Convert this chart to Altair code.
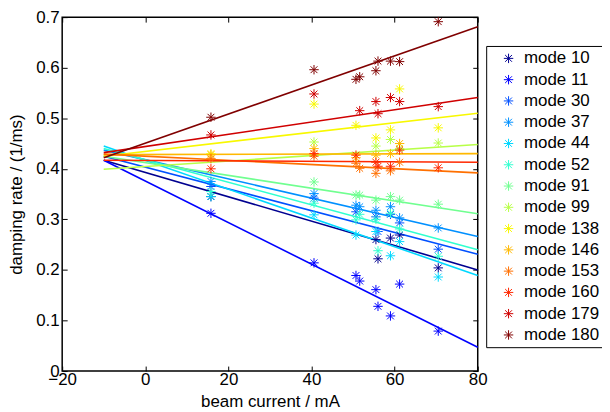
import altair as alt
import pandas as pd

modes = [10, 11, 30, 37, 44, 52, 91, 99, 138, 146, 153, 160, 179, 180]
mode_labels = [f"mode {m}" for m in modes]
mode_colors = ["#000090", "#0000ff", "#0050ff", "#0090ff", "#00d8ff", "#30ffd0",
               "#70ff90", "#b8ff48", "#f8f800", "#ffb800", "#ff7000", "#ff2800",
               "#d00000", "#800000"]

# fitted lines: value at x=-10 and x=80
line_x = [-10, 80]
line_start = [0.417, 0.417, 0.425, 0.437, 0.445, 0.440, 0.425, 0.399, 0.425, 0.428, 0.429, 0.417, 0.432, 0.422]
line_end = [0.200, 0.047, 0.231, 0.266, 0.189, 0.240, 0.311, 0.448, 0.510, 0.430, 0.392, 0.413, 0.541, 0.681]

# measurements
current = [15.8, 40.6, 50.7, 51.6, 55.5, 56.0, 59.0, 61.2, 70.5]
rate_10 = [0.345, None, None, None, 0.260, 0.222, 0.263, 0.269, 0.204]
rate_11 = [0.312, 0.214, 0.189, 0.178, 0.161, 0.128, 0.109, 0.172, 0.079]
rate_30 = [0.365, 0.342, 0.315, None, 0.305, 0.276, 0.310, 0.293, 0.241]
rate_37 = [0.375, 0.351, 0.328, 0.325, 0.318, None, 0.325, 0.303, 0.283]
rate_44 = [0.345, 0.309, 0.269, None, 0.276, None, 0.228, 0.256, 0.186]
rate_52 = [0.355, 0.332, 0.299, 0.310, 0.300, 0.238, 0.312, 0.281, 0.227]
rate_91 = [None, 0.374, 0.348, 0.348, 0.338, None, 0.345, 0.338, 0.330]
rate_99 = [None, 0.453, None, None, 0.445, None, 0.458, 0.440, 0.451]
rate_138 = [0.430, 0.528, 0.486, None, 0.461, None, 0.477, 0.558, 0.481]
rate_146 = [0.428, 0.440, 0.422, None, 0.427, None, 0.430, 0.450, None]
rate_153 = [0.420, 0.425, 0.411, 0.401, 0.391, None, 0.396, 0.413, None]
rate_160 = [0.400, 0.430, 0.427, None, 0.413, 0.405, 0.405, 0.437, 0.402]
rate_179 = [0.467, 0.548, None, 0.515, 0.533, 0.509, 0.541, 0.533, 0.523]
rate_180 = [0.502, 0.596, 0.577, 0.582, 0.594, 0.613, 0.613, 0.612, 0.691]
rates = [rate_10, rate_11, rate_30, rate_37, rate_44, rate_52, rate_91, rate_99,
         rate_138, rate_146, rate_153, rate_160, rate_179, rate_180]

x_ticks = [-20, 0, 20, 40, 60, 80]
y_ticks = [0, 0.1, 0.2, 0.3, 0.4, 0.5, 0.6, 0.7]

STAR = "M0,-1L0,1M-1,0L1,0M-0.72,-0.72L0.72,0.72M-0.72,0.72L0.72,-0.72"
FONT = "Liberation Sans"

pts = []
for lab, r in zip(mode_labels, rates):
    for xv, yv in zip(current, r):
        if yv is not None:
            pts.append({"mode": lab, "x": xv, "y": yv})
pts = pd.DataFrame(pts)

lines = []
for lab, col, a, b in zip(mode_labels, mode_colors, line_start, line_end):
    lines.append({"fit": lab, "col": col, "x": line_x[0], "y": a})
    lines.append({"fit": lab, "col": col, "x": line_x[1], "y": b})
lines = pd.DataFrame(lines)

xscale = alt.Scale(domain=[-20, 80], nice=False, zero=False)
yscale = alt.Scale(domain=[0, 0.7], nice=False, zero=False)

line_layer = alt.Chart(lines).mark_line(strokeWidth=1.6).encode(
    x=alt.X("x:Q", scale=xscale,
            axis=alt.Axis(orient="top", values=x_ticks, labels=False, title=None,
                          offset=-5, tickSize=5, tickColor="black", tickWidth=1,
                          domain=False, grid=False)),
    y=alt.Y("y:Q", scale=yscale,
            axis=alt.Axis(orient="right", values=y_ticks, labels=False, title=None,
                          offset=-5, tickSize=5, tickColor="black", tickWidth=1,
                          domain=False, grid=False)),
    stroke=alt.Stroke("col:N", scale=None),
    detail="fit:N",
)

point_layer = alt.Chart(pts).mark_point(shape=STAR, filled=False, size=90,
                                        strokeWidth=1, opacity=1).encode(
    x=alt.X("x:Q", scale=xscale,
            axis=alt.Axis(orient="bottom", values=x_ticks, offset=-5, tickSize=5,
                          tickColor="black", tickWidth=1, domain=False, grid=False,
                          labelFont=FONT, labelFontSize=17, labelColor="black",
                          labelPadding=1, labelFlush=False,
                          title="beam current / mA", titleFont=FONT, titleFontSize=17,
                          titleFontWeight="normal", titleColor="black",
                          titleBaseline="alphabetic", titleY=40.5)),
    y=alt.Y("y:Q", scale=yscale,
            axis=alt.Axis(orient="left", values=y_ticks, offset=-5, tickSize=5,
                          tickColor="black", tickWidth=1, domain=False, grid=False,
                          format="~g", labelFont=FONT, labelFontSize=17,
                          labelColor="black", labelPadding=3, labelFlush=False,
                          title="damping rate / (1/ms)", titleFont=FONT,
                          titleFontSize=17, titleFontWeight="normal",
                          titleColor="black", titleBaseline="alphabetic",
                          titleX=-46, titleY=178)),
    color=alt.Color("mode:N", scale=alt.Scale(domain=mode_labels, range=mode_colors),
                    sort=mode_labels,
                    legend=alt.Legend(title=None, orient="none", legendX=426.5, legendY=29,
                                      symbolType=STAR, symbolSize=90, symbolStrokeWidth=1,
                                      symbolFillColor="transparent",
                                      labelFont=FONT, labelFontSize=17, labelColor="black",
                                      strokeColor="black", fillColor="white",
                                      padding=4, rowPadding=3.4, symbolOffset=10,
                                      labelOffset=7)),
)

chart = alt.layer(line_layer, point_layer).resolve_axis(
    x="independent", y="independent"
).properties(
    width=418, height=356,
    autosize=alt.AutoSizeParams(type="none"),
    padding={"left": 54.5, "top": 8, "right": 125, "bottom": 38},
).configure_view(stroke="black", strokeWidth=1.5)

chart.save("out.html", embed_options={"renderer": "svg", "actions": False})
